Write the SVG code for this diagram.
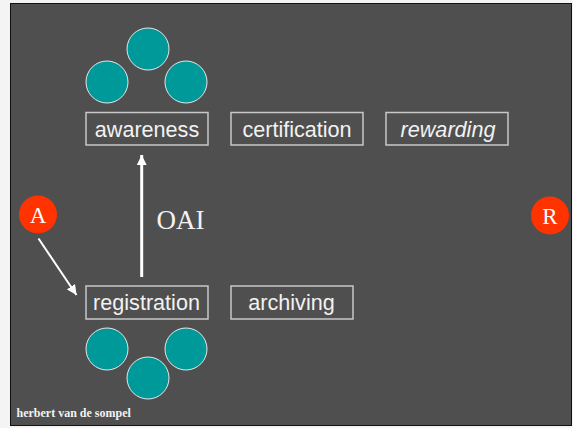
<svg xmlns="http://www.w3.org/2000/svg" width="573" height="428" viewBox="0 0 573 428">
<defs>
<style>
.box{fill:none;stroke:#c8c8c8;stroke-width:1.5}
.lbl{font-family:"Liberation Sans",Arial,sans-serif;font-size:21.6px;fill:#f2f2f2;text-anchor:middle}
.dot{fill:#009999;stroke:#e6e6e6;stroke-width:1}
.red{fill:#ff3300}
.rl{font-family:"Liberation Serif","Times New Roman",serif;font-size:23px;fill:#ffffff;text-anchor:middle}
.conn{stroke:#ffffff;fill:none}
</style>
<marker id="ah" viewBox="0 0 10 10" refX="10" refY="5" markerWidth="10" markerHeight="10" markerUnits="userSpaceOnUse" orient="auto">
<path d="M0,0 L10,5 L0,10 Z" fill="#ffffff"/>
</marker>
<marker id="ah2" viewBox="0 0 10 10" refX="10" refY="5" markerWidth="11" markerHeight="10" markerUnits="userSpaceOnUse" orient="auto">
<path d="M0,0 L10,5 L0,10 Z" fill="#ffffff"/>
</marker>
</defs>
<rect x="0" y="0" width="573" height="428" fill="#f4f4f4"/>
<rect x="10.5" y="3.5" width="561" height="422" fill="#4f4f4f" stroke="#111111" stroke-width="1"/>

<g id="awareness-circles">
<circle class="dot" cx="148" cy="49" r="21"/>
<circle class="dot" cx="107" cy="82" r="21"/>
<circle class="dot" cx="186" cy="82" r="21"/>
</g>
<g id="awareness">
<rect class="box" x="86" y="112.5" width="122" height="32.5"/>
<text class="lbl" x="147" y="137">awareness</text>
</g>
<g id="certification">
<rect class="box" x="231" y="112.5" width="132" height="32.5"/>
<text class="lbl" x="297" y="137">certification</text>
</g>
<g id="rewarding">
<rect class="box" x="386" y="112.5" width="122" height="32.5"/>
<text class="lbl" x="448" y="137" font-style="italic">rewarding</text>
</g>
<g id="registration">
<rect class="box" x="86" y="286" width="122" height="33"/>
<text class="lbl" x="146.5" y="310">registration</text>
</g>
<g id="archiving">
<rect class="box" x="231" y="286" width="122" height="33"/>
<text class="lbl" x="291.5" y="310">archiving</text>
</g>
<g id="registration-circles">
<circle class="dot" cx="107" cy="349" r="21"/>
<circle class="dot" cx="186" cy="349" r="21"/>
<circle class="dot" cx="148" cy="378" r="21"/>
</g>
<g id="A">
<circle class="red" cx="38" cy="214.5" r="19"/>
<text class="rl" x="38" y="222.5">A</text>
</g>
<g id="R">
<circle class="red" cx="550" cy="215.5" r="19"/>
<text class="rl" x="550" y="223.5">R</text>
</g>
<g id="connectors">
<line class="conn" x1="38.5" y1="238.5" x2="76.5" y2="295" stroke-width="2" marker-end="url(#ah)"/>
<line class="conn" x1="141.7" y1="277" x2="141.7" y2="155" stroke-width="3" marker-end="url(#ah2)"/>
</g>
<text x="156.5" y="229" font-family="'Liberation Serif','Times New Roman',serif" font-size="27" fill="#f2f2f2">OAI</text>
<text x="16.5" y="416.5" font-family="'Liberation Serif','Times New Roman',serif" font-size="12" font-weight="bold" fill="#f2f2f2">herbert van de sompel</text>
</svg>
